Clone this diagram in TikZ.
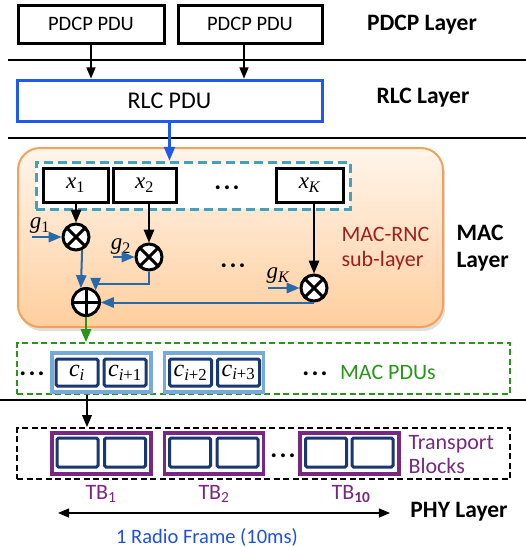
\documentclass[tikz,border=0pt]{standalone}
\usepackage{fontspec}
\setmainfont{Carlito}
\newfontfamily\tms{Liberation Serif}
\usepackage{tikz}
\usetikzlibrary{arrows,shadows}
\definecolor{rlcblue}{RGB}{30,90,235}
\definecolor{macorange}{RGB}{246,160,90}
\definecolor{dashteal}{RGB}{70,160,185}
\definecolor{linkblue}{RGB}{40,105,170}
\definecolor{macred}{RGB}{160,30,30}
\definecolor{pdugreen}{RGB}{40,150,25}
\definecolor{grpblue}{RGB}{120,170,215}
\definecolor{navy}{RGB}{25,55,115}
\definecolor{tbpurple}{RGB}{120,40,130}
\definecolor{framelue}{RGB}{30,80,230}
\newcommand{\dotrow}{.\hspace{2.2pt}.\hspace{2.2pt}.}

\tikzset{
  layer/.style={font=\fontsize{23.5}{27}\selectfont\bfseries},
  pdcpbox/.style={draw,line width=3pt,fill=white,minimum width=146pt,minimum height=38pt,font=\fontsize{20.5}{24}\selectfont},
  xbox/.style={draw,line width=3pt,fill=white,minimum height=34pt,font=\fontsize{23}{26}\tms\itshape},
  mult/.style={circle,draw,line width=3pt,fill=white,minimum size=26pt,inner sep=0pt,
    path picture={\draw[line width=3pt] (path picture bounding box.north west)--(path picture bounding box.south east)
      (path picture bounding box.north east)--(path picture bounding box.south west);}},
  addsum/.style={circle,draw,line width=3pt,fill=white,minimum size=27pt,inner sep=0pt,
    path picture={\draw[line width=3pt] (path picture bounding box.north)--(path picture bounding box.south)
      (path picture bounding box.west)--(path picture bounding box.east);}},
  glabel/.style={font=\fontsize{23}{26}\tms\itshape,inner sep=0pt},
  link/.style={-triangle 45,draw=linkblue,line width=2pt},
  grp/.style={draw=grpblue,line width=3.5pt,fill=white,minimum width=99pt,minimum height=39pt},
  cbox/.style={draw=navy,line width=3pt,rounded corners=1.5pt,fill=white,minimum width=42pt,minimum height=27pt,inner sep=0pt,font=\fontsize{24}{26}\tms\itshape},
  tbbox/.style={draw=tbpurple,line width=3.5pt,fill=white,minimum width=99pt,minimum height=41pt},
  slot/.style={draw=navy,line width=3pt,rounded corners=1.5pt,fill=white,minimum width=41pt,minimum height=29pt},
  dots/.style={anchor=base,inner sep=0pt,font=\fontsize{26}{28}\selectfont\bfseries},
  tblabel/.style={text=tbpurple,font=\fontsize{22}{26}\selectfont}
}

\begin{document}
\begin{tikzpicture}[x=1pt,y=-1pt]
    \useasboundingbox (0,0) rectangle (526,547);

    % PDCP and RLC
    \node[pdcpbox] (pdcpA) at (91,24) {PDCP PDU};
    \node[pdcpbox,minimum width=144pt] (pdcpB) at (250,24) {PDCP PDU};
    \node[layer] (pdcplayer) at (422,25) {PDCP Layer};
    \draw[line width=1.8pt] (8,60) -- (526,60);
    \node[draw=rlcblue,line width=3pt,minimum width=305pt,minimum height=41pt,font=\fontsize{24}{28}\selectfont] (rlc) at (169.5,100.5) {RLC PDU};
    \node[layer] (rlclayer) at (423,98) {RLC Layer};
    \draw[-triangle 45,line width=1.6pt] (pdcpA.south) -- (pdcpA.south |- rlc.north);
    \draw[-triangle 45,line width=1.6pt] ([xshift=-6pt]pdcpB.south) -- ([xshift=-6pt]pdcpB.south |- rlc.north);
    \draw[line width=1.8pt] (8,138) -- (526,138);

    % MAC-RNC sub-layer
    \node[draw=macorange,line width=2pt,rounded corners=22pt,top color=orange!8,bottom color=orange!38,
      minimum width=425pt,minimum height=179pt,drop shadow={opacity=0.25,shadow xshift=2pt,shadow yshift=-4pt}] (macbg) at (230.5,237.5) {};
    \node[draw=dashteal,dash pattern=on 9pt off 5pt,line width=3pt,fill=white,minimum width=314pt,minimum height=47pt] (xgroup) at (193,185.5) {};
    \draw[-triangle 45,draw=rlcblue,fill=rlcblue,line width=2.2pt] (rlc.south) -- (rlc.south |- xgroup.north);
    \node[xbox,minimum width=65pt] (xone) at (75.5,185) {x\textsubscript{\upshape 1}};
    \node[xbox,minimum width=63pt] (xtwo) at (144.5,185) {x\textsubscript{\upshape 2}};
    \node[xbox,minimum width=67pt] (xk) at (309.5,185) {x\textsubscript{K}};
    \node[dots] (xdots) at (227,189) {\dotrow};

    \node[mult] (mone) at (76,237) {};
    \node[mult] (mtwo) at (149,257) {};
    \node[mult] (mk) at (314,288) {};
    \node[addsum] (sum) at (86,302) {};
    \node[dots] (mdots) at (233,267) {\dotrow};

    \node[glabel] (gone) at (40,226) {g\textsubscript{\upshape 1}};
    \node[glabel] (gtwo) at (121,247) {g\textsubscript{\upshape 2}};
    \node[glabel] (gk) at (278,276) {g\textsubscript{K}};
    \coordinate (gonein) at (32,237);
    \coordinate (gtwoin) at (113,257);
    \coordinate (gkin) at (268,288);
    \draw[link] (gonein) -- (mone.west);
    \draw[link] (gtwoin) -- (mtwo.west);
    \draw[link] (gkin) -- (mk.west);

    \draw[-triangle 45,line width=2pt] (xone.south -| mone) -- (mone.north);
    \draw[-triangle 45,line width=2pt] (xtwo.south -| mtwo) -- (mtwo.north);
    \draw[-triangle 45,line width=2pt] (xk.south -| mk) -- (mk.north);

    \draw[link] (mone.-65) -- (sum.110);
    \draw[link] (mtwo.south) -- ++(0,12) -| (sum.50);
    \draw[link] (mk.south) -- (mk.south -| sum.east);

    \node[text=macred,align=left,anchor=west,font=\fontsize{22}{25}\selectfont] (rnc) at (338,249) {MAC-RNC\\sub-layer};
    \node[layer,align=left,anchor=west] (maclayer) at (453,248) {MAC\\Layer};

    % MAC PDUs
    \node[draw=pdugreen,dash pattern=on 6pt off 3.5pt,line width=2pt,minimum width=493pt,minimum height=51pt] (macpdu) at (263.5,368.5) {};
    \draw[-triangle 45,draw=pdugreen,fill=pdugreen,line width=2pt] (sum.south) -- (sum.south |- macpdu.north);
    \node[dots] (pdudotsA) at (32,375) {\dotrow};
    \node[grp] (grpone) at (101.5,372.5) {};
    \node[grp] (grptwo) at (214,372.5) {};
    \node[cbox] (ci) at (77,372.5) {c\textsubscript{i}};
    \node[cbox] (cia) at (125,372.5) {c\textsubscript{i\upshape +1}};
    \node[cbox] (cib) at (190.5,372.5) {c\textsubscript{i\upshape +2}};
    \node[cbox] (cic) at (238.5,372.5) {c\textsubscript{i\upshape +3}};
    \node[dots] (pdudotsB) at (315,375) {\dotrow};
    \node[text=pdugreen,font=\fontsize{22}{25}\selectfont] (pdutext) at (388,372) {MAC PDUs};
    \draw[line width=1.8pt] (0,400) -- (526,400);

    % PHY
    \node[draw,dash pattern=on 6pt off 3.5pt,line width=2pt,minimum width=493pt,minimum height=51pt] (phy) at (263.5,453.5) {};
    \draw[-triangle 45,line width=1.8pt] ([xshift=-14.5pt]macpdu.south -| grpone) -- ([xshift=-14.5pt]phy.north -| grpone);
    \node[tbbox] (tbone) at (101.5,453.5) {};
    \node[tbbox] (tbtwo) at (214,453.5) {};
    \node[tbbox] (tbten) at (349.5,453.5) {};
    \node[slot] (sa) at (77.5,452.5) {};
    \node[slot] (sb) at (125,452.5) {};
    \node[slot] (sc) at (190,452.5) {};
    \node[slot] (sd) at (237.5,452.5) {};
    \node[slot] (se) at (326,452.5) {};
    \node[slot] (sf) at (372.5,452.5) {};
    \node[dots] (tbdots) at (283,457) {\dotrow};
    \node[text=tbpurple,align=left,anchor=west,font=\fontsize{22}{24}\selectfont] (tbtext) at (405,455) {Transport\\Blocks};

    \node[tblabel] (tbonelab) at (101,494) {TB\textsubscript{1}};
    \node[tblabel] (tbtwolab) at (214,494) {TB\textsubscript{2}};
    \node[tblabel] (tbtenlab) at (351,494) {TB\textsubscript{\bfseries 10}};
    \coordinate (framel) at (58,513);
    \coordinate (framer) at (390,513);
    \draw[triangle 45-triangle 45,line width=1.6pt] (framel) -- (framer);
    \node[layer] (phylayer) at (459,512) {PHY Layer};
    \node[text=framelue,font=\fontsize{20.5}{24}\selectfont] (frametext) at (207,537) {1 Radio Frame (10ms)};
\end{tikzpicture}
\end{document}
